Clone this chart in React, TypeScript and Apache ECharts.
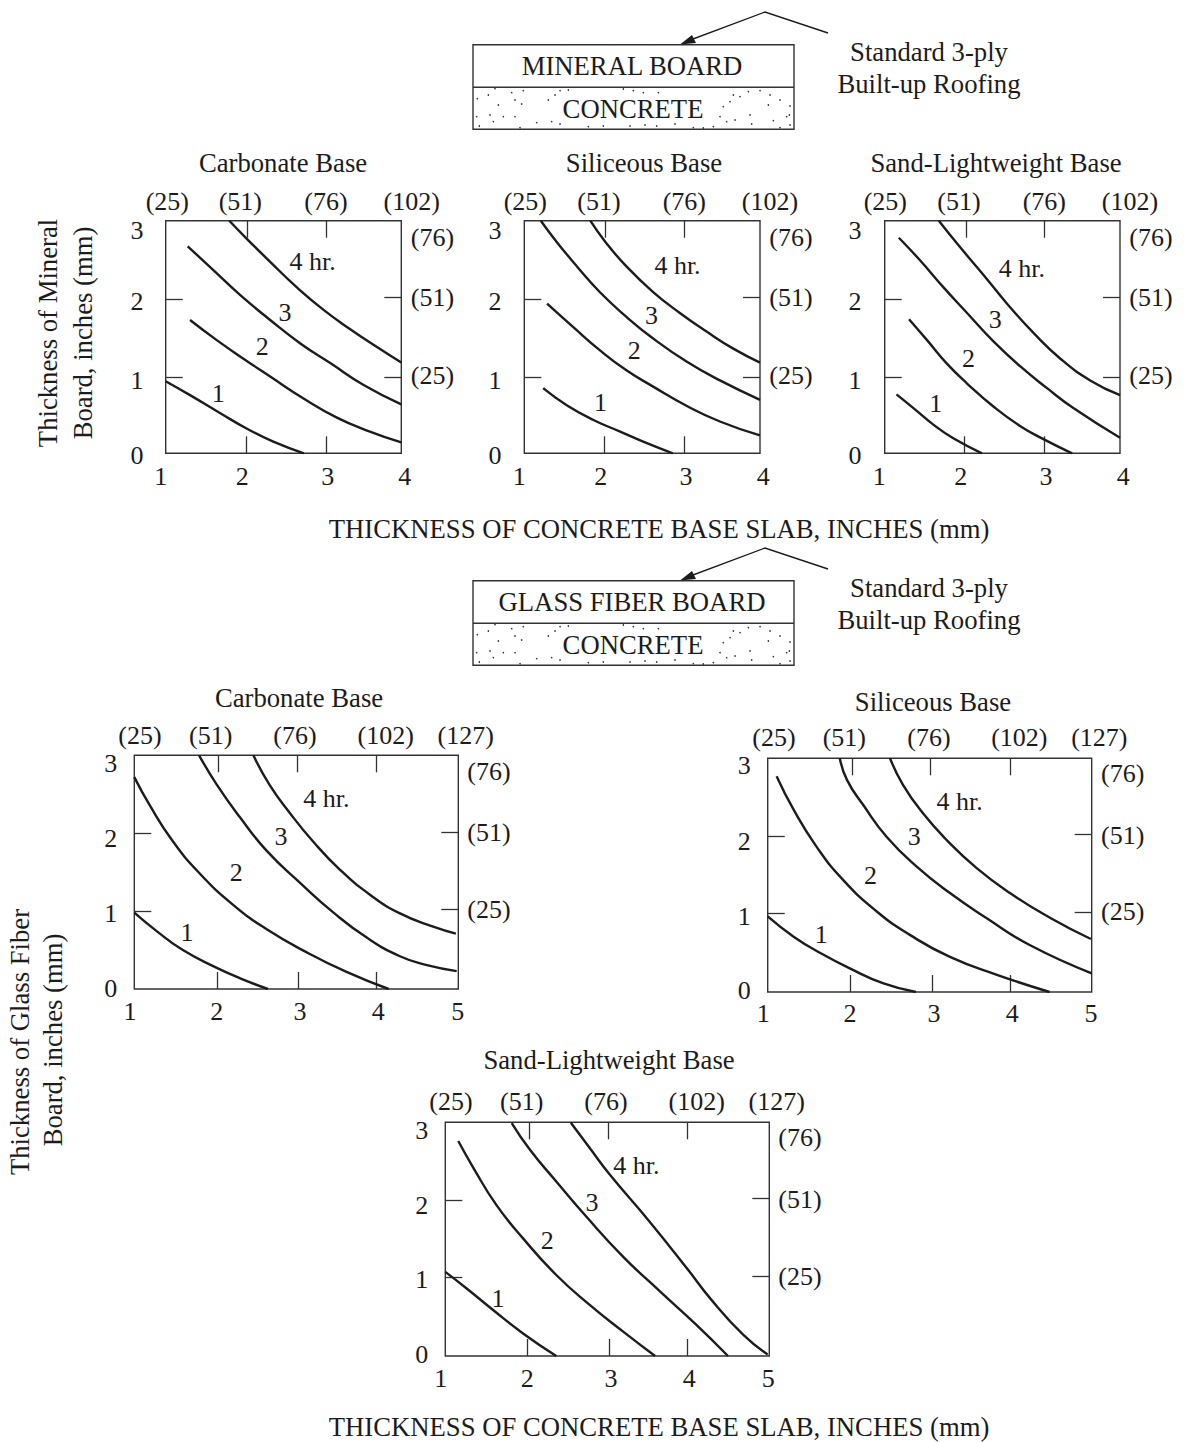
import React, { useEffect, useRef } from "react";
import * as echarts from "echarts";

const FONT = "Liberation Serif";
const INK = "#1c1c1c";
const FS = 26.7;
const TICK_FS = 26;

type Pt = number[];

// ---- tick labels ----
const yInchLabels = ["3", "2", "1", "0"];
const yMmLabels = ["(76)", "(51)", "(25)"];
const xInch4 = ["1", "2", "3", "4"];
const xInch5 = ["1", "2", "3", "4", "5"];
const xMm4 = ["(25)", "(51)", "(76)", "(102)"];
const xMm5 = ["(25)", "(51)", "(76)", "(102)", "(127)"];

// ---- curves: [slab thickness in, board thickness in] ----
const mineralCarbonate: Pt[][] = [
  [[1, 0.93], [1.31, 0.75], [1.69, 0.52], [2.03, 0.32], [2.37, 0.15], [2.76, 0]],
  [[1.31, 1.72], [1.65, 1.46], [1.99, 1.22], [2.33, 0.99], [2.75, 0.71], [3.18, 0.46], [3.6, 0.28], [4, 0.14]],
  [[1.28, 2.67], [1.61, 2.36], [1.95, 2.04], [2.33, 1.72], [2.71, 1.42], [3.1, 1.16], [3.52, 0.88], [4, 0.63]],
  [[1.81, 3], [2.03, 2.77], [2.33, 2.47], [2.67, 2.14], [3.01, 1.85], [3.35, 1.6], [3.69, 1.37], [4, 1.17]],
];
const mineralSiliceous: Pt[][] = [
  [[1.24, 0.84], [1.54, 0.62], [1.88, 0.43], [2.22, 0.28], [2.56, 0.13], [2.89, 0]],
  [[1.29, 1.93], [1.62, 1.63], [1.96, 1.33], [2.3, 1.07], [2.64, 0.86], [3.07, 0.61], [3.49, 0.41], [4, 0.23]],
  [[1.21, 3], [1.41, 2.73], [1.67, 2.41], [1.96, 2.08], [2.3, 1.76], [2.64, 1.48], [3.07, 1.18], [3.49, 0.94], [4, 0.69]],
  [[1.84, 3], [2.03, 2.73], [2.3, 2.41], [2.64, 2.08], [2.98, 1.81], [3.32, 1.57], [3.66, 1.35], [4, 1.17]],
];
const mineralSand: Pt[][] = [
  [[1.15, 0.76], [1.37, 0.58], [1.62, 0.37], [1.88, 0.19], [2.24, 0]],
  [[1.31, 1.73], [1.54, 1.46], [1.79, 1.16], [2.05, 0.9], [2.39, 0.6], [2.73, 0.35], [3.03, 0.18], [3.39, 0]],
  [[1.18, 2.78], [1.45, 2.49], [1.75, 2.14], [2.05, 1.81], [2.39, 1.44], [2.73, 1.12], [3.07, 0.84], [3.41, 0.58], [4, 0.2]],
  [[1.69, 3], [1.96, 2.66], [2.26, 2.3], [2.56, 1.93], [2.9, 1.55], [3.24, 1.22], [3.62, 0.94], [4, 0.75]],
];
const glassCarbonate: Pt[][] = [
  [[1, 0.98], [1.28, 0.74], [1.6, 0.5], [1.98, 0.29], [2.3, 0.14], [2.65, 0]],
  [[1, 2.72], [1.19, 2.36], [1.48, 1.89], [1.81, 1.48], [2.22, 1.08], [2.63, 0.77], [3.13, 0.47], [3.62, 0.22], [4.14, 0]],
  [[1.8, 3], [2.02, 2.62], [2.3, 2.21], [2.63, 1.78], [3.05, 1.36], [3.46, 0.98], [3.87, 0.66], [4.28, 0.42], [4.6, 0.31], [4.98, 0.23]],
  [[2.47, 3], [2.67, 2.62], [2.92, 2.26], [3.21, 1.89], [3.54, 1.53], [3.91, 1.21], [4.28, 0.97], [4.69, 0.8], [4.97, 0.71]],
];
const glassSiliceous: Pt[][] = [
  [[1, 0.97], [1.32, 0.71], [1.65, 0.5], [2.02, 0.3], [2.43, 0.11], [2.83, 0]],
  [[1.11, 2.77], [1.32, 2.34], [1.6, 1.87], [1.93, 1.44], [2.35, 1.03], [2.76, 0.73], [3.25, 0.45], [3.83, 0.22], [4.48, 0]],
  [[1.89, 3], [1.98, 2.72], [2.18, 2.4], [2.47, 1.99], [2.84, 1.61], [3.25, 1.27], [3.7, 0.95], [4.24, 0.6], [5, 0.24]],
  [[2.51, 3], [2.67, 2.66], [2.92, 2.29], [3.21, 1.95], [3.58, 1.59], [3.99, 1.27], [4.49, 0.95], [4.99, 0.68]],
];
const glassSand: Pt[][] = [
  [[1, 1.08], [1.26, 0.87], [1.59, 0.59], [1.96, 0.29], [2.37, 0]],
  [[1.16, 2.76], [1.35, 2.41], [1.63, 1.94], [1.96, 1.51], [2.37, 1.04], [2.79, 0.65], [3.2, 0.31], [3.59, 0]],
  [[1.82, 2.99], [2.05, 2.64], [2.37, 2.24], [2.74, 1.79], [3.2, 1.27], [3.65, 0.83], [4.1, 0.4], [4.49, 0]],
  [[2.55, 2.995], [2.79, 2.66], [3.03, 2.33], [3.51, 1.74], [3.98, 1.13], [4.27, 0.74], [4.68, 0.27], [4.98, 0.02]],
];

// ---- curve captions: [x, y, text], in data units ----
const capMineralCarbonate = [[2.87, 2.47, "4 hr."], [2.52, 1.81, "3"], [2.23, 1.375, "2"], [1.67, 0.77, "1"]];
const capMineralSiliceous = [[2.95, 2.42, "4 hr."], [2.62, 1.775, "3"], [2.4, 1.32, "2"], [1.97, 0.66, "1"]];
const capMineralSand = [[2.75, 2.38, "4 hr."], [2.41, 1.73, "3"], [2.07, 1.22, "2"], [1.65, 0.64, "1"]];
const capGlassCarbonate = [[3.37, 2.44, "4 hr."], [2.81, 1.96, "3"], [2.26, 1.49, "2"], [1.65, 0.73, "1"]];
const capGlassSiliceous = [[3.37, 2.44, "4 hr."], [2.81, 1.99, "3"], [2.27, 1.49, "2"], [1.66, 0.74, "1"]];
const capGlassSand = [[3.36, 2.44, "4 hr."], [2.81, 1.97, "3"], [2.26, 1.48, "2"], [1.65, 0.74, "1"]];

// ---- panel layout (page pixels) and hand-set tick/label placement ----
const panels = [
  {
    title: "Carbonate Base", titleAt: [283, 163], box: [165.7, 220.7, 401.3, 453.3], xMax: 4,
    curves: mineralCarbonate, caps: capMineralCarbonate,
    topTicks: [2.04, 3.04], botTicks: [2.02, 3.04], leftTicks: [1.986, 0.984], rightTicks: [2.015, 0.984],
    top: xMm4, topAt: [167.3, 240.3, 326, 411.7], topY: 201.7,
    bot: xInch4, botAt: [160.7, 242.3, 327.7, 404.7], botY: 476.7,
    leftAt: [230, 301, 380, 455], leftX: 137,
    rightAt: [237.7, 297.7, 375.7], rightX: 432.5,
  },
  {
    title: "Siliceous Base", titleAt: [644, 163], box: [524.3, 220.7, 760, 453.3], xMax: 4,
    curves: mineralSiliceous, caps: capMineralSiliceous,
    topTicks: [2.035, 3.035], botTicks: [2.013, 3.035], leftTicks: [1.986, 0.984], rightTicks: [2.015, 0.984],
    top: xMm4, topAt: [525.3, 599, 684.3, 770], topY: 201.7,
    bot: xInch4, botAt: [519.3, 600.7, 686, 763.3], botY: 476.7,
    leftAt: [230, 301, 380, 455], leftX: 495,
    rightAt: [237.7, 297.7, 375.7], rightX: 791,
  },
  {
    title: "Sand-Lightweight Base", titleAt: [996, 163], box: [884.7, 220.7, 1120, 453.3], xMax: 4,
    curves: mineralSand, caps: capMineralSand,
    topTicks: [2.037, 3.04], botTicks: [2.01, 3.04], leftTicks: [1.986, 0.984], rightTicks: [2.015, 0.984],
    top: xMm4, topAt: [885.3, 959, 1044.3, 1130], topY: 201.7,
    bot: xInch4, botAt: [879.3, 960.7, 1046, 1123.3], botY: 476.7,
    leftAt: [230, 301, 380, 455], leftX: 855,
    rightAt: [237.7, 297.7, 375.7], rightX: 1151,
  },
  {
    title: "Carbonate Base", titleAt: [299, 698], box: [134.3, 755.3, 458.3, 989], xMax: 5,
    curves: glassCarbonate, caps: capGlassCarbonate,
    topTicks: [2.033, 3.008, 3.988], botTicks: [2.02, 3.025, 3.992], leftTicks: [2, 1], rightTicks: [2.015, 1.018],
    top: xMm5, topAt: [140, 210.7, 295, 385.7, 465.7], topY: 735,
    bot: xInch5, botAt: [130, 216.7, 300, 378.3, 457.7], botY: 1011.7,
    leftAt: [763.3, 838.3, 913.3, 988.3], leftX: 110.7,
    rightAt: [771.7, 832.7, 909.3], rightX: 489,
  },
  {
    title: "Siliceous Base", titleAt: [933, 702], box: [767.7, 758.3, 1091.7, 992], xMax: 5,
    curves: glassSiliceous, caps: capGlassSiliceous,
    topTicks: [2.04, 3.012, 3.992], botTicks: [2.025, 3.03, 3.996], leftTicks: [2.003, 1.006], rightTicks: [2.02, 1.023],
    top: xMm5, topAt: [774, 844.3, 929, 1019.3, 1099.3], topY: 737.3,
    bot: xInch5, botAt: [763.3, 850, 934, 1012.3, 1091], botY: 1013.3,
    leftAt: [765.7, 841, 916.7, 990], leftX: 744.3,
    rightAt: [773.3, 835, 911.7], rightX: 1122.7,
  },
  {
    title: "Sand-Lightweight Base", titleAt: [609, 1060], box: [445.3, 1122.3, 769.3, 1356], xMax: 5,
    curves: glassSand, caps: capGlassSand,
    topTicks: [2.037, 3.008, 3.988], botTicks: [2.016, 3.021, 3.988], leftTicks: [2.003, 1.006], rightTicks: [2.02, 1.023],
    top: xMm5, topAt: [451, 521.7, 606, 696.7, 776.7], topY: 1101.7,
    bot: xInch5, botAt: [440.7, 527.3, 611, 689.3, 768.3], botY: 1378.3,
    leftAt: [1130.7, 1205, 1279, 1354.3], leftX: 421.7,
    rightAt: [1137.3, 1199, 1276], rightX: 800,
  },
];

// stipple of the concrete layer, in 3x-zoom pixels relative to the box corner
const stipple = [
  [140,268],[165,266],[215,278],[250,272],[112,296],[145,285],[185,298],[225,300],[280,283],[310,295],[140,310],[175,315],[205,322],[245,312],[290,310],[325,300],[110,350],[150,345],[190,350],[225,350],[262,340],[300,355],[345,285],[360,272],[385,270],[415,280],[350,310],[118,378],[160,365],[210,382],[240,383],[290,368],[335,365],[360,372],
  [520,268],[550,267],[580,272],[610,278],[655,278],[700,265],[735,265],[750,268],[445,380],[490,378],[530,382],[570,378],[615,375],[650,378],[705,372],[760,383],[790,384],[820,380],
  [830,310],[850,320],[870,305],[890,325],[840,350],[860,365],[885,360],[925,275],[960,272],[990,285],[1020,300],[1045,292],[925,310],[950,325],[985,315],[1020,325],[1050,318],[930,345],[965,355],[1000,362],[1040,350],[1048,345],[935,372],[980,370],[1020,383],[1050,375],[900,290],[880,285],
];

const txt = (text: string, x: number, y: number, extra: any = {}) => ({
  type: "text", x, y,
  style: { text, fill: INK, font: `${FS}px "${FONT}"`, textAlign: "center", textVerticalAlign: "middle" },
  silent: true, ...extra,
});

const diagram = (board: string, dy: number) => {
  const els: any[] = [
    { type: "rect", shape: { x: 473, y: 44.7 + dy, width: 321, height: 84.6 }, style: { fill: "#fff", stroke: "#333", lineWidth: 1.4 } },
    { type: "line", shape: { x1: 473, y1: 87.3 + dy, x2: 794, y2: 87.3 + dy }, style: { stroke: "#333", lineWidth: 1.4 } },
    { type: "polyline", shape: { points: [[685, 42 + dy], [765, 12 + dy], [828, 33 + dy]] }, style: { stroke: INK, lineWidth: 1.4, fill: "none" } },
    { type: "polygon", shape: { points: [[680, 44.5 + dy], [692, 35 + dy], [696, 43 + dy]] }, style: { fill: INK } },
  ];
  stipple.forEach(([zx, zy]) =>
    els.push({ type: "circle", shape: { cx: 440 + zx / 3, cy: zy / 3 + dy, r: 0.8 }, style: { fill: "#333" } })
  );
  els.push(txt(board, 632, 66 + dy), txt("CONCRETE", 633, 109 + dy));
  els.push(txt("Standard 3-ply", 929, 52 + dy), txt("Built-up Roofing", 929, 84 + dy));
  return els;
};

function buildOption() {
  const grid: any[] = [], xAxis: any[] = [], yAxis: any[] = [], series: any[] = [];
  const hidden = { type: "value", show: false, min: 0, max: 1 };
  const labelStyle = { fontFamily: FONT, fontSize: TICK_FS, color: INK, verticalAlign: "middle", align: "center", hideOverlap: false };
  const tickStyle = { show: true, inside: true, length: 17, lineStyle: { color: "#333", width: 1.3 } };
  const labelAxis = (at: number[], text: string[], margin: number) => ({
    type: "value", axisLine: { show: false, onZero: false }, axisTick: { show: false }, splitLine: { show: false },
    axisLabel: {
      ...labelStyle, show: true, margin, rotate: 0, customValues: at,
      formatter: (v: number) => text[at.findIndex((a) => Math.abs(a - v) < 0.01)] ?? "",
    },
  });

  panels.forEach((p) => {
    const [L, T, R, B] = p.box;
    const g = grid.length;
    // data grid
    grid.push({ left: L, top: T, width: R - L, height: B - T, show: true, borderColor: "#333", borderWidth: 1.4, backgroundColor: "transparent" });
    const plain = { type: "value", axisLine: { show: false, onZero: false }, splitLine: { show: false }, axisLabel: { show: false } };
    const x0 = xAxis.length, y0 = yAxis.length;
    xAxis.push(
      { ...plain, gridIndex: g, position: "bottom", min: 1, max: p.xMax, axisTick: { ...tickStyle, customValues: p.botTicks } },
      { ...plain, gridIndex: g, position: "top", min: 1, max: p.xMax, axisTick: { ...tickStyle, customValues: p.topTicks } }
    );
    yAxis.push(
      { ...plain, gridIndex: g, position: "left", min: 0, max: 3, axisTick: { ...tickStyle, customValues: p.leftTicks } },
      { ...plain, gridIndex: g, position: "right", min: 0, max: 3, axisTick: { ...tickStyle, customValues: p.rightTicks } }
    );
    // label grids: wider (x labels) and taller (y labels) than the box, scaled in page pixels
    const padX = 40, padY = 30;
    grid.push({ left: L - padX, top: T, width: R - L + 2 * padX, height: B - T });
    xAxis.push(
      { ...labelAxis(p.botAt, p.bot, p.botY - B), gridIndex: g + 1, position: "bottom", min: L - padX, max: R + padX },
      { ...labelAxis(p.topAt, p.top, T - p.topY), gridIndex: g + 1, position: "top", min: L - padX, max: R + padX }
    );
    yAxis.push({ ...hidden, gridIndex: g + 1 });
    grid.push({ left: L, top: T - padY, width: R - L, height: B - T + 2 * padY });
    xAxis.push({ ...hidden, gridIndex: g + 2 });
    yAxis.push(
      { ...labelAxis(p.leftAt, yInchLabels, L - p.leftX), gridIndex: g + 2, position: "left", inverse: true, min: T - padY, max: B + padY },
      { ...labelAxis(p.rightAt, yMmLabels, p.rightX - R), gridIndex: g + 2, position: "right", inverse: true, min: T - padY, max: B + padY }
    );

    p.curves.forEach((c, i) =>
      series.push({
        type: "line", name: `${p.title} ${i + 1}`, xAxisIndex: x0, yAxisIndex: y0, data: c,
        showSymbol: false, symbol: "none", smooth: 0.5, clip: true,
        lineStyle: { color: INK, width: 2.4 }, silent: true, z: 3,
      })
    );
    series.push({
      type: "scatter", xAxisIndex: x0, yAxisIndex: y0, data: p.caps, symbolSize: 1,
      itemStyle: { color: "transparent", opacity: 1 }, silent: true, z: 4,
      label: {
        show: true, position: "inside", fontFamily: FONT, fontSize: TICK_FS, color: INK,
        formatter: (q: any) => q.data[2],
      },
    });
  });

  const graphicEls: any[] = [
    ...diagram("MINERAL BOARD", 0),
    ...diagram("GLASS FIBER BOARD", 536),
    ...panels.map((p) => txt(p.title, p.titleAt[0], p.titleAt[1])),
    txt("THICKNESS OF CONCRETE BASE SLAB, INCHES (mm)", 659, 529),
    txt("THICKNESS OF CONCRETE BASE SLAB, INCHES (mm)", 659, 1427),
    txt("Thickness of Mineral", 48, 333, { rotation: Math.PI / 2 }),
    txt("Board, inches (mm)", 83, 333, { rotation: Math.PI / 2 }),
    txt("Thickness of Glass Fiber", 20, 1042, { rotation: Math.PI / 2 }),
    txt("Board, inches (mm)", 53, 1040, { rotation: Math.PI / 2 }),
  ];

  return { animation: false, backgroundColor: "#fff", grid, xAxis, yAxis, series, graphic: { elements: graphicEls } };
}

export default function App() {
  const ref = useRef<HTMLDivElement>(null);
  useEffect(() => {
    const chart = echarts.init(ref.current!, undefined, { renderer: "svg" });
    chart.setOption(buildOption() as any);
    return () => chart.dispose();
  }, []);
  return <div ref={ref} style={{ position: "absolute", left: 0, top: 0, width: 1184, height: 1442 }} />;
}
